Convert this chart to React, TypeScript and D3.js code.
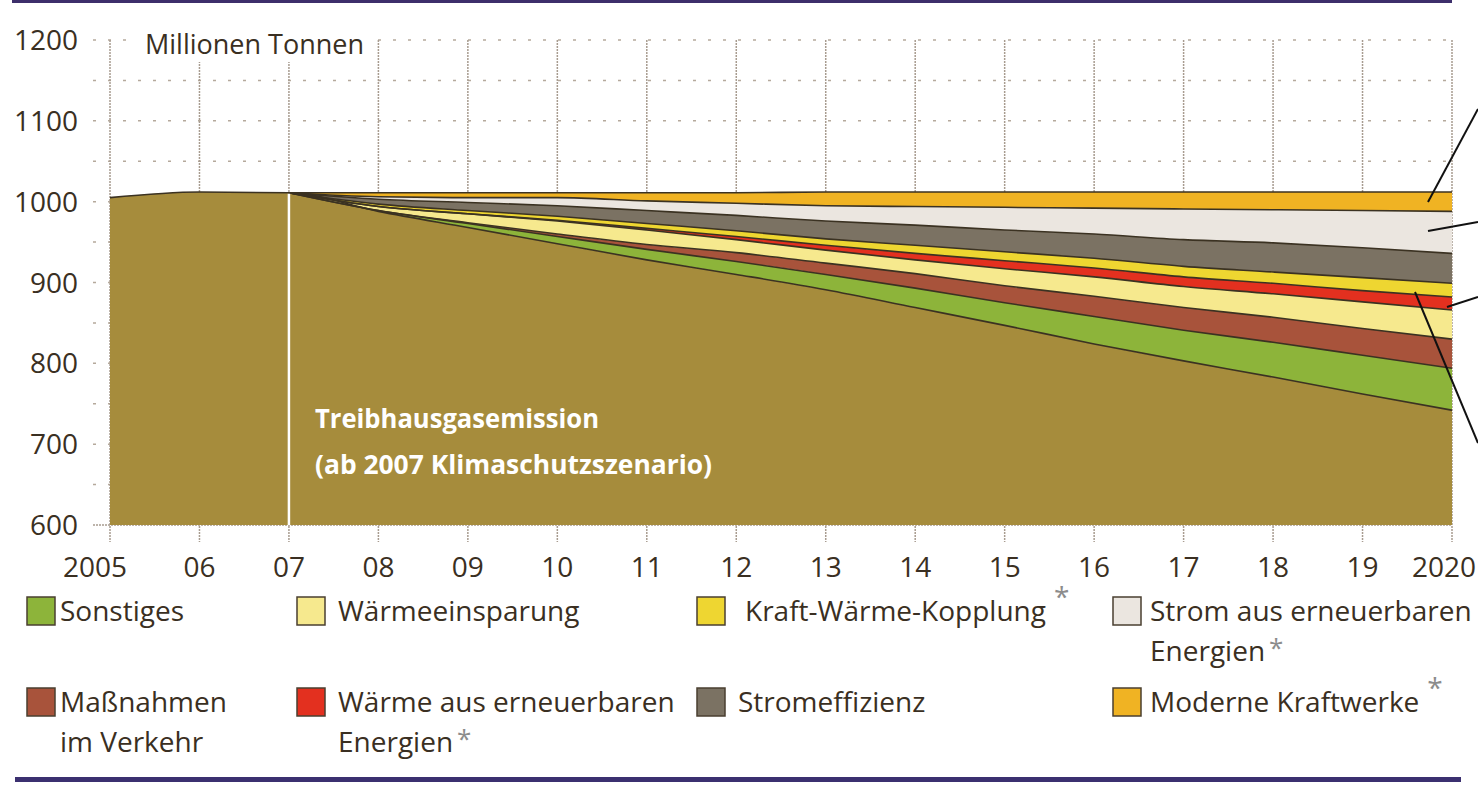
import React, { useEffect, useRef } from 'react';
import * as d3 from 'd3';

// years on the x axis and their printed labels
const years = [2005, 2006, 2007, 2008, 2009, 2010, 2011, 2012, 2013, 2014, 2015, 2016, 2017, 2018, 2019, 2020];
const yearLabels = ['2005', '06', '07', '08', '09', '10', '11', '12', '13', '14', '15', '16', '17', '18', '19', '2020'];
const yTicks = [600, 700, 800, 900, 1000, 1100, 1200];

// Mio. t CO2-Äquivalent
const emission = [1005, 1012, 1011, 988, 968, 948, 928, 910, 891, 869, 847, 824, 803, 783, 762, 742];
const sonstiges = [0, 0, 0, 1, 5, 9, 13, 16, 19, 24, 28, 34, 38, 43, 48, 52];
const verkehr = [0, 0, 0, 0, 1, 3, 6, 11, 14, 18, 21, 25, 28, 31, 33, 36];
const waermeeinsparung = [0, 0, 0, 5, 11, 16, 18, 16, 16, 17, 21, 24, 26, 29, 33, 36];
const waermeErneuerbar = [0, 0, 0, 0, 0, 1, 2, 4, 6, 8, 10, 11, 12, 13, 14, 16];
const kwk = [0, 0, 0, 3, 4, 5, 6, 7, 8, 10, 11, 12, 13, 14, 16, 17];
const stromeffizienz = [0, 0, 0, 6, 10, 13, 16, 19, 22, 25, 27, 30, 33, 36, 37, 37];
const stromErneuerbar = [0, 0, 0, 3, 6, 10, 12, 15, 19, 23, 28, 32, 38, 41, 46, 52];
const moderneKraftwerke = [0, 0, 0, 5, 6, 6, 10, 13, 17, 18, 19, 20, 21, 22, 23, 24];

const keys = ['base', 'sonstiges', 'verkehr', 'waermeeinsparung', 'waermeErneuerbar', 'kwk', 'stromeffizienz', 'stromErneuerbar', 'moderne'];
const colors: Record<string, string> = {
  base: '#a68c3c',
  sonstiges: '#8db43a',
  verkehr: '#a8533b',
  waermeeinsparung: '#f6e98e',
  waermeErneuerbar: '#e3301f',
  kwk: '#eed631',
  stromeffizienz: '#7b7263',
  stromErneuerbar: '#ebe6e0',
  moderne: '#f0b323',
};

const legendItems = [
  { key: 'sonstiges', lines: ['Sonstiges'], star: false },
  { key: 'waermeeinsparung', lines: ['Wärmeeinsparung'], star: false },
  { key: 'kwk', lines: ['Kraft-Wärme-Kopplung'], star: true },
  { key: 'stromErneuerbar', lines: ['Strom aus erneuerbaren', 'Energien'], star: true },
  { key: 'verkehr', lines: ['Maßnahmen', 'im Verkehr'], star: false },
  { key: 'waermeErneuerbar', lines: ['Wärme aus erneuerbaren', 'Energien'], star: true },
  { key: 'stromeffizienz', lines: ['Stromeffizienz'], star: false },
  { key: 'moderne', lines: ['Moderne Kraftwerke'], star: true },
];

const FONT = "'Open Sans', 'Noto Sans', sans-serif";
const TEXT = '#3a2f22';

export default function App() {
  const ref = useRef<SVGSVGElement>(null);

  useEffect(() => {
    const svg = d3.select(ref.current);
    svg.selectAll('*').remove();

    const x = d3.scaleLinear().domain([2005, 2020]).range([110, 1452]);
    const y = d3.scaleLinear().domain([600, 1200]).range([525, 40]);

    const rows = years.map((yr, i) => ({
      year: yr,
      base: emission[i],
      sonstiges: sonstiges[i],
      verkehr: verkehr[i],
      waermeeinsparung: waermeeinsparung[i],
      waermeErneuerbar: waermeErneuerbar[i],
      kwk: kwk[i],
      stromeffizienz: stromeffizienz[i],
      stromErneuerbar: stromErneuerbar[i],
      moderne: moderneKraftwerke[i],
    }));

    // top and bottom rules
    svg.append('rect').attr('x', 12).attr('y', 0).attr('width', 1440).attr('height', 3).attr('fill', '#3d2f6b');
    svg.append('rect').attr('x', 15).attr('y', 777).attr('width', 1446).attr('height', 5).attr('fill', '#3b3070');

    // grid
    const grid = svg.append('g');
    d3.range(650, 1201, 50).forEach(v => {
      grid.append('line')
        .attr('x1', 93).attr('x2', 1452).attr('y1', y(v)).attr('y2', y(v))
        .attr('stroke', '#b5a99c').attr('stroke-width', 1.5).attr('stroke-dasharray', '3,12');
    });
    grid.append('line')
      .attr('x1', 93).attr('x2', 1452).attr('y1', y(600)).attr('y2', y(600))
      .attr('stroke', '#a89c90').attr('stroke-width', 1.5).attr('stroke-dasharray', '2,1');
    years.forEach(yr => {
      grid.append('line')
        .attr('x1', x(yr)).attr('x2', x(yr)).attr('y1', y(1200)).attr('y2', 542)
        .attr('stroke', '#a89c90').attr('stroke-width', 1.5).attr('stroke-dasharray', '2,1');
    });

    // unit label with white box over grid
    svg.append('rect').attr('x', 132).attr('y', 26).attr('width', 242).attr('height', 36).attr('fill', '#fff');
    svg.append('text')
      .attr('x', 145).attr('y', 54)
      .attr('font-family', FONT).attr('font-size', 27).attr('fill', TEXT)
      .text('Millionen Tonnen');

    // stacked areas
    const series = d3.stack<any>().keys(keys)(rows);

    series.forEach(s => {
      const pts = s.key === 'base' ? s : s.filter(d => d.data.year >= 2007);
      svg.append('path')
        .datum(pts)
        .attr('d', d3.area<any>()
          .x(d => x(d.data.year))
          .y0(d => (s.key === 'base' ? y(600) : y(d[0])))
          .y1(d => y(d[1]))
          .curve(d3.curveMonotoneX))
        .attr('fill', colors[s.key]);
    });

    // edges between layers
    series.forEach(s => {
      const pts = s.key === 'base' ? s : s.filter(d => d.data.year >= 2007);
      svg.append('path')
        .datum(pts)
        .attr('d', d3.line<any>().x(d => x(d.data.year)).y(d => y(d[1])).curve(d3.curveMonotoneX))
        .attr('fill', 'none')
        .attr('stroke', '#3b3222')
        .attr('stroke-width', 1.6);
    });

    // white separator at 2007
    svg.append('line')
      .attr('x1', x(2007)).attr('x2', x(2007))
      .attr('y1', y(emission[2]) + 1).attr('y2', y(600))
      .attr('stroke', '#fff').attr('stroke-width', 2.5);

    // label inside area
    const lbl = svg.append('text')
      .attr('font-family', FONT).attr('font-weight', 700).attr('font-size', 27).attr('fill', '#fff');
    lbl.append('tspan').attr('x', 315).attr('y', 428).attr('textLength', 284).attr('lengthAdjust', 'spacingAndGlyphs').text('Treibhausgasemission');
    lbl.append('tspan').attr('x', 315).attr('y', 474).attr('textLength', 397).attr('lengthAdjust', 'spacingAndGlyphs').text('(ab 2007 Klimaschutzszenario)');

    // y axis labels
    yTicks.forEach(v => {
      svg.append('text')
        .attr('x', 78).attr('y', y(v) + 10)
        .attr('text-anchor', 'end')
        .attr('font-family', FONT).attr('font-size', 28).attr('fill', TEXT)
        .text(String(v));
    });

    // x axis labels
    years.forEach((yr, i) => {
      const last = i === years.length - 1;
      svg.append('text')
        .attr('x', i === 0 ? x(yr) - 15 : last ? 1476 : x(yr))
        .attr('y', 577)
        .attr('text-anchor', last ? 'end' : 'middle')
        .attr('font-family', FONT).attr('font-size', 28).attr('fill', TEXT)
        .text(yearLabels[i]);
    });

    // pointer lines to the right
    const pointers = [
      [1428, 202, 1478, 109],
      [1428, 231, 1478, 222],
      [1447, 307, 1478, 297],
      [1415, 292, 1478, 443],
    ];
    pointers.forEach(p => {
      svg.append('line')
        .attr('x1', p[0]).attr('y1', p[1]).attr('x2', p[2]).attr('y2', p[3])
        .attr('stroke', '#111').attr('stroke-width', 2);
    });

    // legend
    const colX = [27, 297, 697, 1113];
    const textX = [60, 338, 745, 1150];
    const rowY = [597, 688];
    legendItems.forEach((item, i) => {
      const c = i % 4;
      const r = Math.floor(i / 4);
      const g = svg.append('g');
      g.append('rect')
        .attr('x', colX[c]).attr('y', rowY[r])
        .attr('width', 28).attr('height', 28)
        .attr('fill', colors[item.key])
        .attr('stroke', '#4a3f30').attr('stroke-width', 1.5);
      const tx = c === 2 && r === 1 ? 738 : textX[c];
      const t = g.append('text')
        .attr('font-family', FONT).attr('font-size', 28).attr('fill', TEXT);
      item.lines.forEach((ln, j) => {
        t.append('tspan').attr('x', tx).attr('y', rowY[r] + 24 + j * 40).text(ln);
      });
      if (item.star) {
        const spans = t.selectAll('tspan').nodes() as SVGTSpanElement[];
        const lastSpan = spans[spans.length - 1];
        const w = lastSpan.getComputedTextLength();
        const multi = item.lines.length > 1;
        g.append('text')
          .attr('x', tx + w + (multi ? 4 : 8))
          .attr('y', rowY[r] + 24 + (item.lines.length - 1) * 40 - (multi ? 4 : 14))
          .attr('font-family', FONT).attr('font-size', multi ? 26 : 28).attr('fill', '#8c8c8c')
          .text('*');
      }
    });
  }, []);

  return (
    <svg
      ref={ref}
      width={1478}
      height={786}
      style={{ position: 'absolute', left: 0, top: 0, background: '#fff' }}
    />
  );
}
